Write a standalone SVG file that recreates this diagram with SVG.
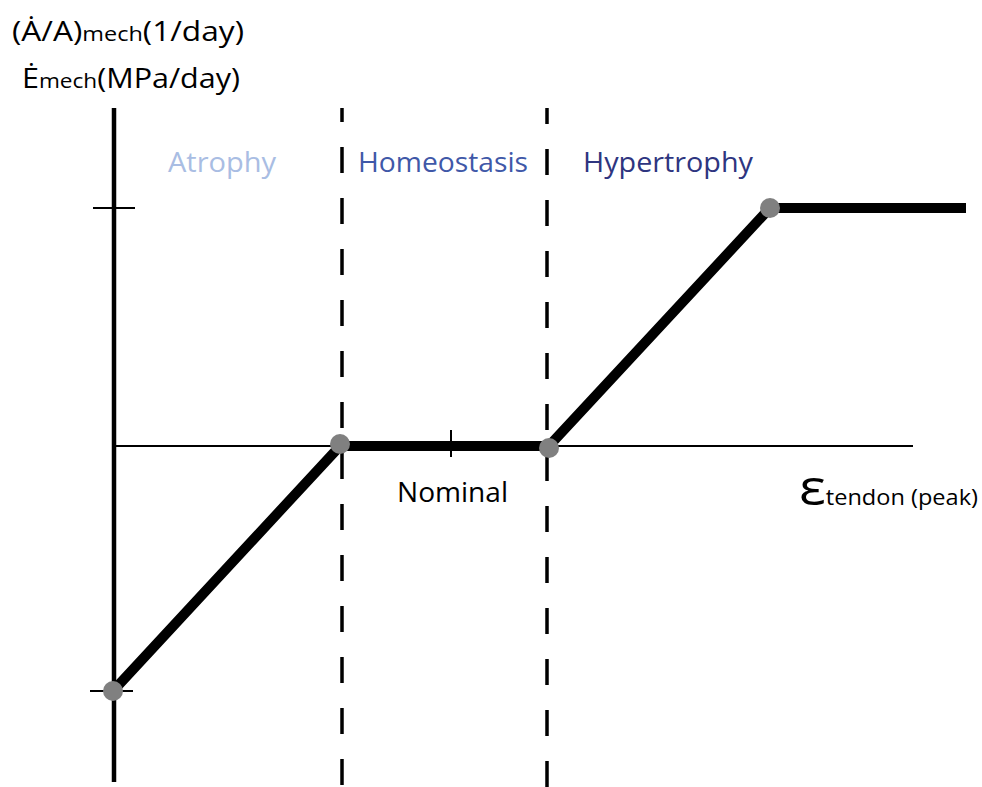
<svg xmlns="http://www.w3.org/2000/svg" width="982" height="787" viewBox="0 0 982 787">
<style>
text{font-family:"Open Sans","Noto Sans","Liberation Sans",sans-serif}
.lab{font-size:27px}
.axis{stroke:#000;fill:none}
.dash{stroke:#000;stroke-width:3.5;stroke-dasharray:26 25}
.curve{stroke:#000;stroke-width:10;fill:none;stroke-linejoin:miter}
.dot{fill:#808080}
</style>
<rect width="982" height="787" fill="#fff"/>
<g id="axes">
<line class="axis" x1="114" y1="108" x2="114" y2="782" stroke-width="4.5"/>
<line class="axis" x1="114" y1="446" x2="913" y2="446" stroke-width="2.2"/>
<line class="axis" x1="93" y1="208" x2="135" y2="208" stroke-width="2"/>
<line class="axis" x1="90" y1="691" x2="133" y2="691" stroke-width="2"/>
<line class="axis" x1="451" y1="430" x2="451" y2="457" stroke-width="2"/>
</g>
<g id="dividers">
<line class="dash" x1="342" y1="108" x2="342" y2="787" stroke-dashoffset="12"/>
<line class="dash" x1="547" y1="108" x2="547" y2="787" stroke-dashoffset="10"/>
</g>
<g id="connectors">
<polyline class="curve" points="113,691 340,446 549,446 770,208 966,208"/>
</g>
<g id="points">
<circle class="dot" cx="113" cy="691" r="10"/>
<circle class="dot" cx="340" cy="444" r="10"/>
<circle class="dot" cx="549" cy="448" r="10"/>
<circle class="dot" cx="770" cy="208" r="10"/>
</g>
<g id="ylabel">
<text x="12" y="41" class="lab" textLength="232" lengthAdjust="spacingAndGlyphs">(Ȧ/A)<tspan font-size="20">mech</tspan>(1/day)</text>
<text x="22" y="88" class="lab" textLength="218" lengthAdjust="spacingAndGlyphs">Ė<tspan font-size="20">mech</tspan>(MPa/day)</text>
</g>
<g id="regions">
<text x="168" y="172" class="lab" fill="#a9bde3" textLength="108" lengthAdjust="spacingAndGlyphs">Atrophy</text>
<text x="358" y="172" class="lab" fill="#3f58a8" textLength="170" lengthAdjust="spacingAndGlyphs">Homeostasis</text>
<text x="583" y="172" class="lab" fill="#2e3580" textLength="170" lengthAdjust="spacingAndGlyphs">Hypertrophy</text>
</g>
<g id="xlabels">
<text x="397" y="502" class="lab" textLength="111" lengthAdjust="spacingAndGlyphs">Nominal</text>
<text x="799" y="505" font-size="50" textLength="179" lengthAdjust="spacingAndGlyphs">ε<tspan font-size="21">tendon (peak)</tspan></text>
</g>
</svg>
